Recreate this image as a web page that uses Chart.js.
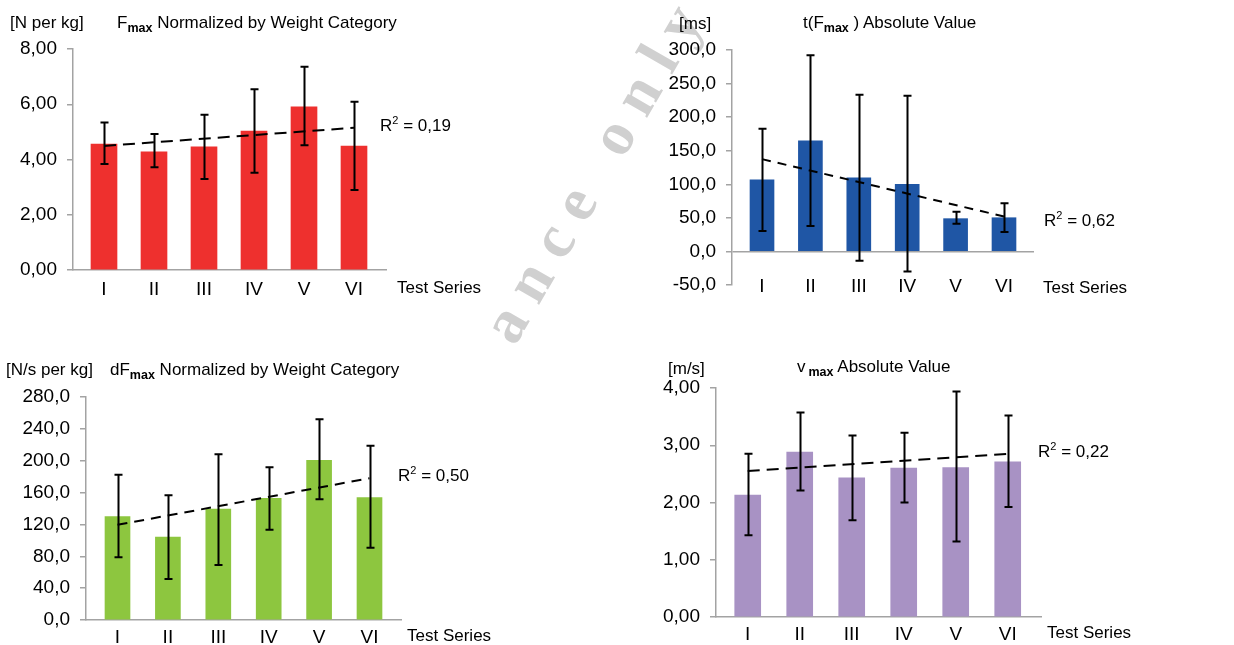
<!DOCTYPE html>
<html>
<head>
<meta charset="utf-8">
<script src="https://cdn.jsdelivr.net/npm/chart.js@4.4.1/dist/chart.umd.min.js"></script>
<style>
  html, body { margin:0; padding:0; background:#fff; }
  body { width:1234px; height:645px; overflow:hidden; position:relative; font-family:"Liberation Sans", Arial, sans-serif; color:#000; }
  canvas { position:absolute; }
  .t { position:absolute; white-space:nowrap; font-size:17px; line-height:17px; }
  .s { font-size:12.5px; font-weight:bold; position:relative; top:4px; }
  .p { font-size:11px; position:relative; top:-7px; }
  #wm { position:absolute; left:0; top:0; width:1234px; height:347px; overflow:hidden; }
  #wm div { position:absolute; left:595px; top:166px; transform:translate(-50%,-50%) rotate(-60deg);
            font-family:"Liberation Serif", serif; font-weight:bold; font-size:62px; letter-spacing:16px;
            color:#d0d0d0; white-space:nowrap; line-height:62px; }
</style>
</head>
<body>
<div id="wm"><div>ance only</div></div>

<canvas id="c1"></canvas>
<canvas id="c2"></canvas>
<canvas id="c3"></canvas>
<canvas id="c4"></canvas>

<div class="t" style="left:10px;top:14px">[N per kg]</div>
<div class="t" style="left:117px;top:14px">F<span class="s">max</span> Normalized by Weight Category</div>
<div class="t" style="left:380px;top:117px">R<span class="p">2</span> = 0,19</div>
<div class="t" style="left:397px;top:279px">Test Series</div>

<div class="t" style="left:679px;top:15px">[ms]</div>
<div class="t" style="left:803px;top:14px">t(F<span class="s">max</span> ) Absolute Value</div>
<div class="t" style="left:1044px;top:212px">R<span class="p">2</span> = 0,62</div>
<div class="t" style="left:1043px;top:279px">Test Series</div>

<div class="t" style="left:6px;top:361px">[N/s per kg]</div>
<div class="t" style="left:110px;top:361px">dF<span class="s">max</span> Normalized by Weight Category</div>
<div class="t" style="left:398px;top:467px">R<span class="p">2</span> = 0,50</div>
<div class="t" style="left:407px;top:627px">Test Series</div>

<div class="t" style="left:668px;top:360px">[m/s]</div>
<div class="t" style="left:797px;top:358px">v<span class="s" style="margin-left:3px">max</span> Absolute Value</div>
<div class="t" style="left:1038px;top:443px">R<span class="p">2</span> = 0,22</div>
<div class="t" style="left:1047px;top:624px">Test Series</div>

<script>
// ---------- data ----------
const categories = ['I', 'II', 'III', 'IV', 'V', 'VI'];

// Fmax normalized by weight category [N per kg]
const fmaxMean  = [4.56, 4.28, 4.46, 5.03, 5.91, 4.49];
const fmaxLow   = [3.84, 3.72, 3.29, 3.52, 4.52, 2.90];
const fmaxHigh  = [5.34, 4.92, 5.62, 6.54, 7.36, 6.09];
const fmaxTrend = [4.49, 5.15];
const fmaxAxis  = [0, 8, 2];

// t(Fmax) absolute value [ms]
const tfmaxMean  = [106.5, 164.7, 109.5, 100.0, 48.8, 50.2];
const tfmaxLow   = [30.3, 37.8, -13.9, -29.9, 41.3, 28.9];
const tfmaxHigh  = [182.6, 292.0, 233.3, 231.8, 59.2, 71.6];
const tfmaxTrend = [137.5, 52.0];
const tfmaxAxis  = [-50, 300, 50];

// dFmax normalized by weight category [N/s per kg]
const dfmaxMean  = [129.8, 104.2, 139.4, 152.8, 200.5, 153.6];
const dfmaxLow   = [78.7, 51.5, 69.0, 113.4, 151.5, 90.8];
const dfmaxHigh  = [182.5, 156.5, 208.0, 191.7, 252.0, 218.9];
const dfmaxTrend = [119.5, 178.0];
const dfmaxAxis  = [0, 280, 40];

// vmax absolute value [m/s]
const vmaxMean  = [2.13, 2.88, 2.43, 2.60, 2.61, 2.71];
const vmaxLow   = [1.43, 2.21, 1.69, 2.00, 1.32, 1.92];
const vmaxHigh  = [2.85, 3.57, 3.17, 3.22, 3.94, 3.52];
const vmaxTrend = [2.55, 2.85];
const vmaxAxis  = [0, 4, 1];

// ---------- plugin: error bars ----------
const errorBars = {
  id: 'errorBars',
  afterDatasetsDraw(chart, args, opts) {
    const x = chart.scales.x, y = chart.scales.y, ctx = chart.ctx;
    ctx.save();
    ctx.strokeStyle = '#000';
    ctx.lineWidth = 2;
    opts.low.forEach((lo, i) => {
      const px = Math.round(x.getPixelForValue(i + 1)) + 0.5;
      const yl = y.getPixelForValue(lo), yh = y.getPixelForValue(opts.high[i]);
      ctx.beginPath();
      ctx.moveTo(px, yl); ctx.lineTo(px, yh);
      ctx.moveTo(px - 4, yl); ctx.lineTo(px + 4, yl);
      ctx.moveTo(px - 4, yh); ctx.lineTo(px + 4, yh);
      ctx.stroke();
    });
    ctx.restore();
  }
};

const AXIS_GREY = '#a3a3a3';
const tickFont = { family: '"Liberation Sans", Arial, sans-serif', size: 19 };

function makeChart(id, o) {
  const cv = document.getElementById(id);
  const W = o.plot.left - o.canvas.left;
  const padTop = o.plot.top - o.canvas.top;
  const cw = o.plot.right - o.canvas.left + 20;
  const xH = 40;
  const ch = o.plot.bottom - o.canvas.top + xH;
  cv.width = cw; cv.height = ch;
  cv.style.left = o.canvas.left + 'px';
  cv.style.top = o.canvas.top + 'px';
  cv.style.width = cw + 'px'; cv.style.height = ch + 'px';

  const xScale = {
    type: 'linear',
    offset: false,
    min: o.xMin, max: o.xMax,
    afterBuildTicks: s => { s.ticks = categories.map((c, i) => ({ value: i + 1 })); },
    ticks: {
      autoSkip: false, maxRotation: 0,
      padding: o.xPad,
      font: tickFont, color: '#000',
      callback: v => categories[v - 1] || ''
    },
    grid: { display: false, drawTicks: false, offset: false },
    border: { display: !o.zeroLine, color: AXIS_GREY, width: 1.5 }
  };
  if (o.zeroLine) {
    xScale.position = { y: o.axis[0] };
  } else {
    xScale.position = 'bottom';
    xScale.afterFit = s => { s.height = xH; };
  }

  return new Chart(cv, {
    type: 'bar',
    data: {
      datasets: [
        {
          type: 'bar',
          data: o.mean.map((v, i) => ({ x: i + 1, y: v })),
          backgroundColor: o.color,
          borderWidth: 0,
          barThickness: o.barW,
          order: 2
        },
        {
          type: 'line',
          data: [{ x: 1, y: o.trend[0] }, { x: 6, y: o.trend[1] }],
          borderColor: '#000',
          borderWidth: 2,
          borderDash: o.dash,
          pointRadius: 0,
          fill: false,
          order: 1
        }
      ]
    },
    options: {
      responsive: false,
      animation: false,
      devicePixelRatio: 1,
      layout: { padding: { left: 0, top: padTop, right: 20, bottom: o.zeroLine ? xH : 0 } },
      plugins: {
        legend: { display: false },
        tooltip: { enabled: false },
        errorBars: { low: o.low, high: o.high }
      },
      scales: {
        x: xScale,
        y: {
          type: 'linear',
          position: 'left',
          min: o.axis[0], max: o.axis[1],
          afterFit: s => { s.width = W; },
          ticks: {
            stepSize: o.axis[2],
            padding: 10,
            font: tickFont, color: '#000',
            callback: v => v.toFixed(o.dec).replace('.', ',')
          },
          grid: {
            drawOnChartArea: !!o.zeroLine,
            color: c => (c.tick && c.tick.value === 0) ? AXIS_GREY : 'rgba(0,0,0,0)',
            lineWidth: 1.5,
            drawTicks: true, tickLength: 6, tickColor: AXIS_GREY
          },
          border: { display: true, color: AXIS_GREY, width: 1.5 }
        }
      }
    },
    plugins: [errorBars]
  });
}

makeChart('c1', {
  mean: fmaxMean, low: fmaxLow, high: fmaxHigh, trend: fmaxTrend, axis: fmaxAxis, dec: 2,
  color: '#EE302E', barW: 26, dash: [12, 7],
  canvas: { left: 0, top: 0 }, plot: { left: 73, right: 386, top: 49, bottom: 270 },
  xMin: 0.38, xMax: 6.64, xPad: 8
});
makeChart('c2', {
  mean: tfmaxMean, low: tfmaxLow, high: tfmaxHigh, trend: tfmaxTrend, axis: tfmaxAxis, dec: 1,
  color: '#1F56A5', barW: 24, dash: [9, 7], zeroLine: true,
  canvas: { left: 620, top: 0 }, plot: { left: 732, right: 1034, top: 50, bottom: 285 },
  xMin: 0.38, xMax: 6.62, xPad: -10
});
makeChart('c3', {
  mean: dfmaxMean, low: dfmaxLow, high: dfmaxHigh, trend: dfmaxTrend, axis: dfmaxAxis, dec: 1,
  color: '#8DC63F', barW: 25, dash: [10, 7],
  canvas: { left: 0, top: 345 }, plot: { left: 86, right: 401, top: 397, bottom: 620 },
  xMin: 0.375, xMax: 6.625, xPad: 6
});
makeChart('c4', {
  mean: vmaxMean, low: vmaxLow, high: vmaxHigh, trend: vmaxTrend, axis: vmaxAxis, dec: 2,
  color: '#A892C4', barW: 26, dash: [12, 7],
  canvas: { left: 620, top: 345 }, plot: { left: 716, right: 1041, top: 388, bottom: 617 },
  xMin: 0.39, xMax: 6.64, xPad: 6
});
</script>
</body>
</html>
